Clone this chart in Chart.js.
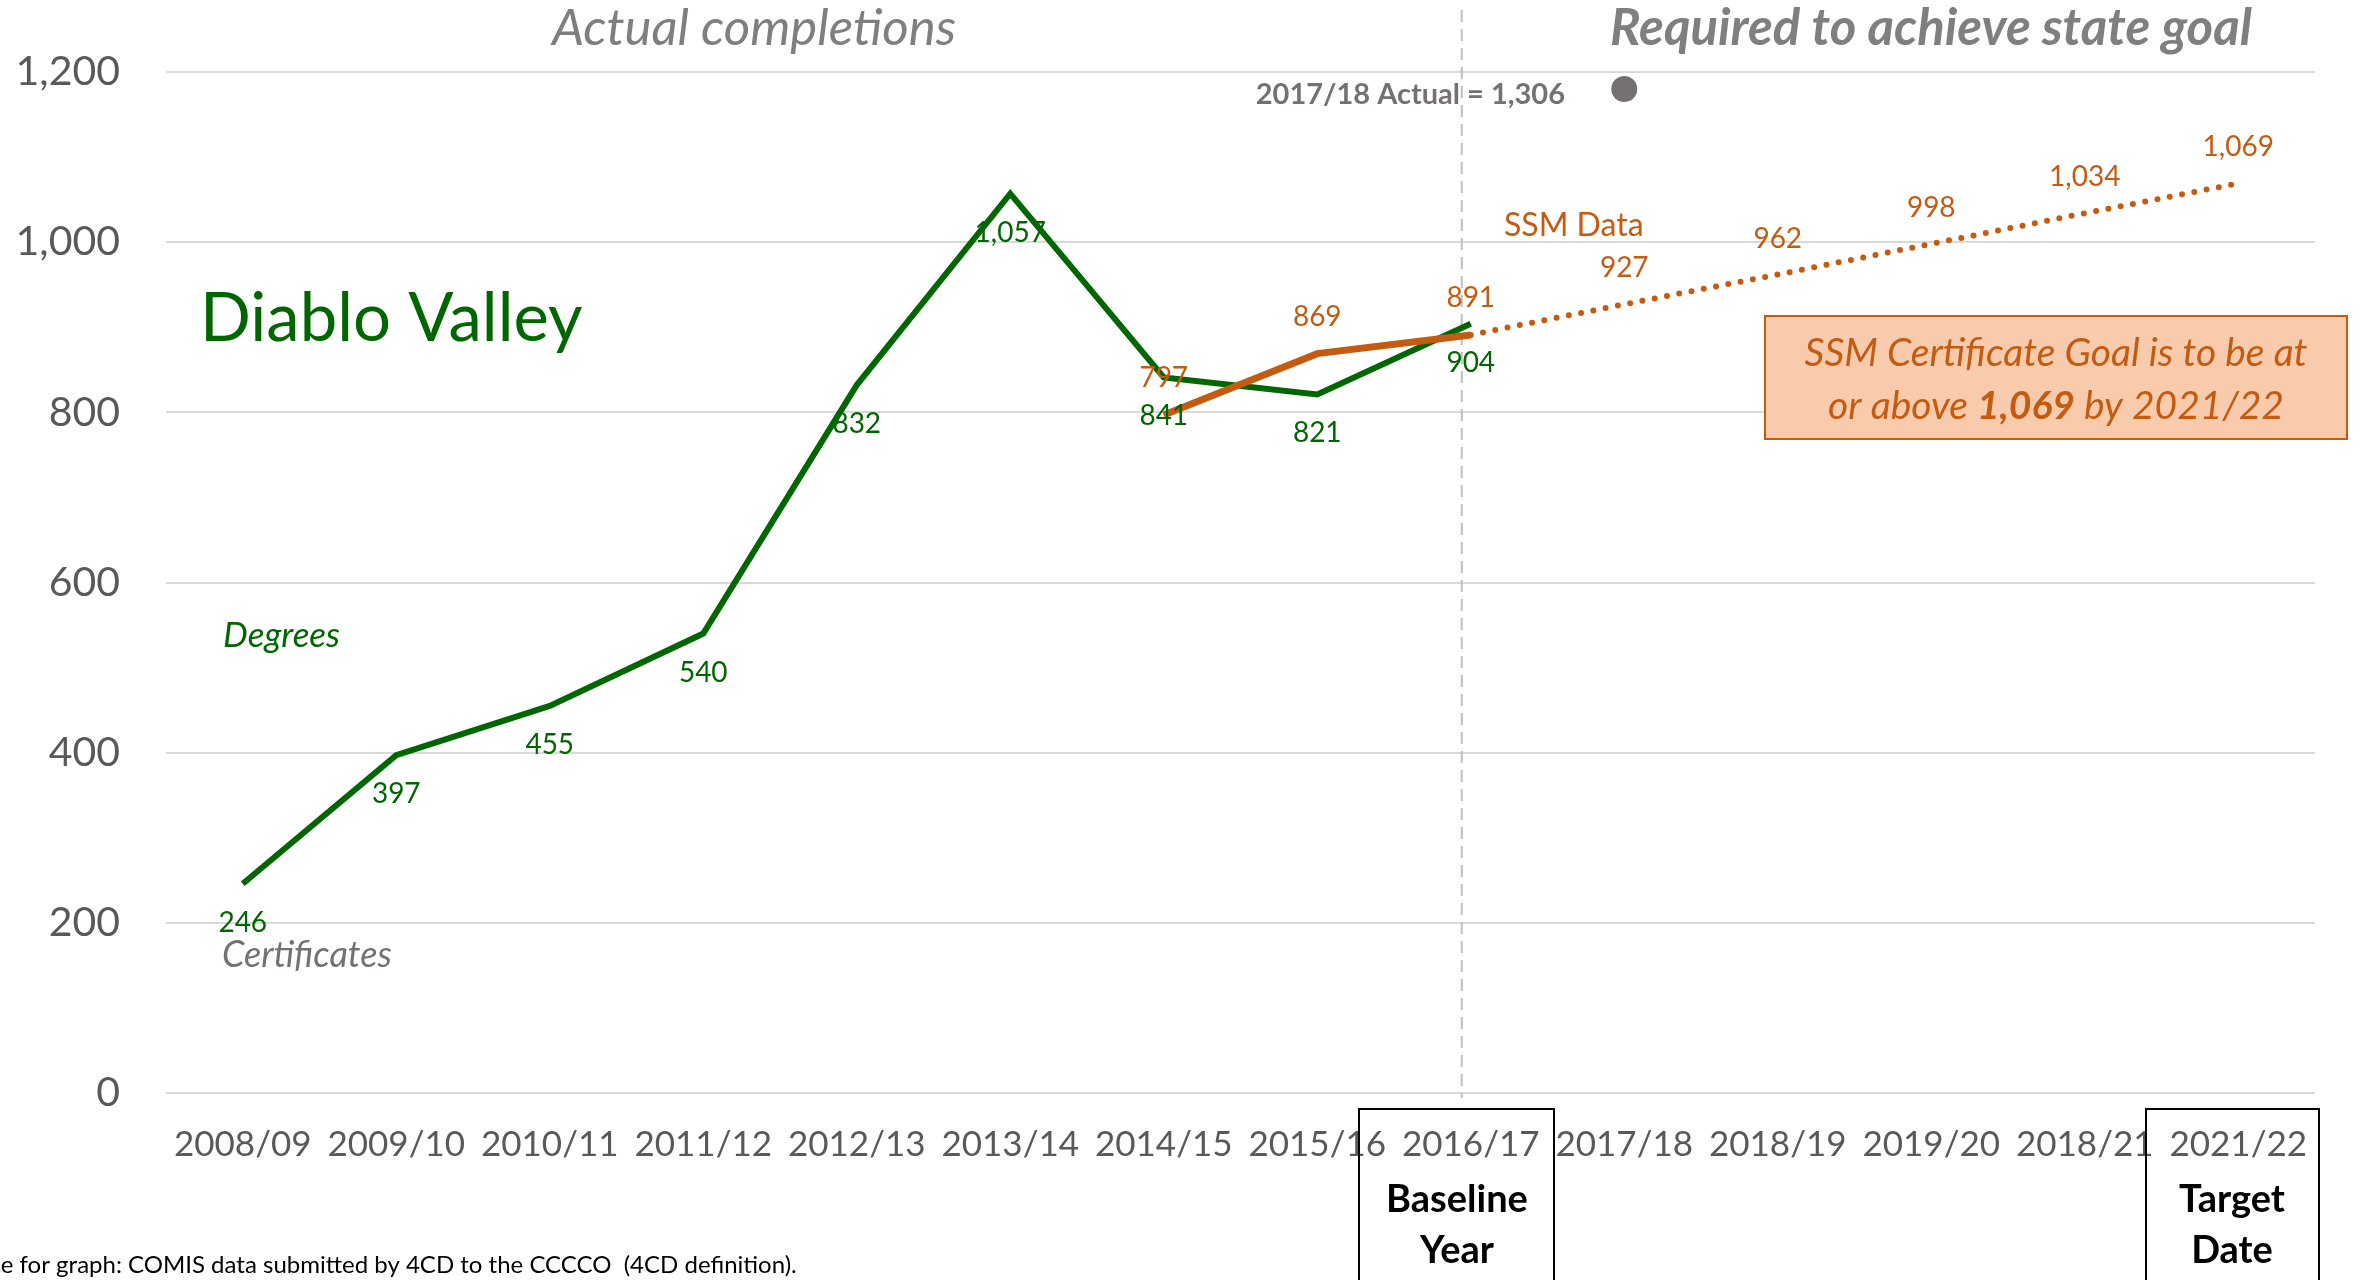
<!DOCTYPE html>
<html>
<head>
<meta charset="utf-8">
<title>Diablo Valley</title>
<script src="https://cdn.jsdelivr.net/npm/chart.js@4.4.1/dist/chart.umd.min.js"></script>
<style>
  html, body { margin: 0; padding: 0; background: #ffffff; }
  #wrap { width: 2368px; height: 1280px; }
</style>
</head>
<body>
<div id="wrap"><canvas id="chart_diablo" width="2368" height="1280"></canvas></div>
<script>
// data
const years = ["2008/09", "2009/10", "2010/11", "2011/12", "2012/13", "2013/14", "2014/15",
  "2015/16", "2016/17", "2017/18", "2018/19", "2019/20", "2018/21", "2021/22"];
const comis_values = [246, 397, 455, 540, 832, 1057, 841, 821, 904, null, null, null, null, null];
const ssm_values = [null, null, null, null, null, null, 797, 869, 891, null, null, null, null, null];
const goal_values = [null, null, null, null, null, null, null, null, 891, 927, 962, 998, 1034, 1069];
const actual_1718 = [null, null, null, null, null, null, null, null, null, 1180, null, null, null, null];
const y_ticks = [0, 200, 400, 600, 800, 1000, 1200];

const GREEN = "#006600";
const ORANGE = "#C55A11";
const GRAY = "#7F7F7F";
const FONT = "Lato";

Chart.defaults.font.family = FONT;

// value labels next to the points
const valueLabels = {
  id: "valueLabels",
  afterDatasetsDraw(chart) {
    let ctx = chart.ctx;
    chart.data.datasets.forEach((ds, di) => {
      if (!ds.valueLabel) return;
      let meta = chart.getDatasetMeta(di);
      ctx.save();
      ctx.font = "28px " + FONT;
      ctx.fillStyle = ds.valueLabel.color;
      ctx.textAlign = "center";
      ctx.textBaseline = "middle";
      meta.data.forEach((pt, i) => {
        let v = ds.data[i];
        if (v == null) return;
        if (ds.valueLabel.skip && ds.valueLabel.skip.includes(i)) return;
        ctx.fillText(v.toLocaleString("en-US"), pt.x, pt.y + ds.valueLabel.dy);
      });
      ctx.restore();
    });
  },
};

function drawBox(ctx, x, y, w, h, fill, stroke) {
  if (fill) {
    ctx.fillStyle = fill;
    ctx.fillRect(x, y, w, h);
  }
  ctx.strokeStyle = stroke;
  ctx.lineWidth = 2;
  ctx.strokeRect(x, y, w, h);
}

function drawText(ctx, text, x, y, font, color, align, maxWidth) {
  ctx.font = font;
  ctx.fillStyle = color;
  ctx.textAlign = align || "left";
  ctx.textBaseline = "alphabetic";
  if (maxWidth) ctx.fillText(text, x, y, maxWidth);
  else ctx.fillText(text, x, y);
}

const annotations = {
  id: "annotations",
  beforeDatasetsDraw(chart) {
    let ctx = chart.ctx;
    let x = chart.scales.x.getPixelForValue(8) - 9;
    ctx.save();
    ctx.strokeStyle = "#BFBFBF";
    ctx.lineWidth = 2;
    ctx.setLineDash([12, 7]);
    ctx.beginPath();
    ctx.moveTo(x, 10);
    ctx.lineTo(x, 1098);
    ctx.stroke();
    ctx.restore();
  },
  afterDraw(chart) {
    let ctx = chart.ctx;
    ctx.save();

    //TITLES
    drawText(ctx, "Actual completions", 754, 45, "italic 51px " + FONT, GRAY, "center");
    drawText(ctx, "Required to achieve state goal", 1931, 45, "italic bold 51px " + FONT, GRAY, "center", 667);
    drawText(ctx, "2017/18 Actual = 1,306", 1565, 104, "bold 29px " + FONT, "#767171", "right");
    drawText(ctx, "SSM Data", 1504, 236, "32px " + FONT, ORANGE, "left");
    drawText(ctx, "Diablo Valley", 200, 341, "67px " + FONT, GREEN, "left");
    drawText(ctx, "Degrees", 223, 647, "italic 35px " + FONT, GREEN, "left");
    drawText(ctx, "Certificates", 222, 967, "italic 36px " + FONT, "#767171", "left");

    //GOAL BOX
    drawBox(ctx, 1765, 316, 582, 123, "#F8CBAD", ORANGE);
    drawText(ctx, "SSM Certificate Goal is to be at", 2056, 366, "italic 39px " + FONT, ORANGE, "center");
    let parts = [
      ["or above ", "italic 39px " + FONT],
      ["1,069", "italic bold 39px " + FONT],
      [" by 2021/22", "italic 39px " + FONT],
    ];
    let total = 0;
    for (let p of parts) {
      ctx.font = p[1];
      total += ctx.measureText(p[0]).width;
    }
    let px = 2056 - total / 2;
    for (let p of parts) {
      drawText(ctx, p[0], px, 419, p[1], ORANGE, "left");
      ctx.font = p[1];
      px += ctx.measureText(p[0]).width;
    }

    //BASELINE / TARGET
    drawBox(ctx, 1359, 1109, 195, 190, null, "#000000");
    drawText(ctx, "Baseline", 1457, 1212, "bold 38px " + FONT, "#000000", "center");
    drawText(ctx, "Year", 1457, 1263, "bold 38px " + FONT, "#000000", "center");
    drawBox(ctx, 2146, 1109, 173, 190, null, "#000000");
    drawText(ctx, "Target", 2232, 1212, "bold 38px " + FONT, "#000000", "center");
    drawText(ctx, "Date", 2232, 1263, "bold 38px " + FONT, "#000000", "center");

    //SOURCE
    ctx.font = "24px " + FONT;
    let cut = ctx.measureText("Sourc").width;
    drawText(ctx, "Source for graph: COMIS data submitted by 4CD to the CCCCO  (4CD definition).",
      -cut + 1, 1273, "24px " + FONT, "#000000", "left");

    ctx.restore();
  },
};

new Chart(document.getElementById("chart_diablo").getContext("2d"), {
  type: "line",
  data: {
    labels: years,
    datasets: [
      {
        label: "COMIS",
        data: comis_values,
        borderColor: GREEN,
        backgroundColor: GREEN,
        borderWidth: 6,
        pointRadius: 0,
        tension: 0,
        order: 3,
        valueLabel: { color: GREEN, dy: 39 },
      },
      {
        label: "SSM Data",
        data: ssm_values,
        borderColor: ORANGE,
        backgroundColor: ORANGE,
        borderWidth: 7,
        pointRadius: 0,
        tension: 0,
        order: 2,
        valueLabel: { color: ORANGE, dy: -37 },
      },
      {
        label: "Goal",
        data: goal_values,
        borderColor: ORANGE,
        backgroundColor: ORANGE,
        borderWidth: 6,
        borderDash: [0, 12.5],
        borderCapStyle: "round",
        pointRadius: 0,
        tension: 0,
        order: 1,
        valueLabel: { color: ORANGE, dy: -36, skip: [8] },
      },
      {
        label: "2017/18 Actual",
        data: actual_1718,
        showLine: false,
        pointRadius: 13,
        pointBackgroundColor: "#757171",
        pointBorderWidth: 0,
        order: 0,
      },
    ],
  },
  options: {
    responsive: false,
    animation: false,
    events: [],
    layout: { padding: { top: 72, right: 53, left: 0, bottom: 0 } },
    plugins: {
      legend: { display: false },
      tooltip: { enabled: false },
    },
    scales: {
      x: {
        offset: true,
        grid: { display: false, drawTicks: false },
        border: { display: false },
        ticks: { color: "#595959", font: { size: 35 }, padding: 31, maxRotation: 0, autoSkip: false },
        afterFit: (scale) => { scale.height = 187; },
      },
      y: {
        min: 0,
        max: 1200,
        afterBuildTicks: (scale) => { scale.ticks = y_ticks.map((v) => ({ value: v })); },
        grid: { color: "#D9D9D9", lineWidth: 2, drawTicks: false },
        border: { display: false },
        ticks: { color: "#595959", font: { size: 41 }, padding: 46 },
        afterFit: (scale) => { scale.width = 166; },
      },
    },
  },
  plugins: [valueLabels, annotations],
});
</script>
</body>
</html>
